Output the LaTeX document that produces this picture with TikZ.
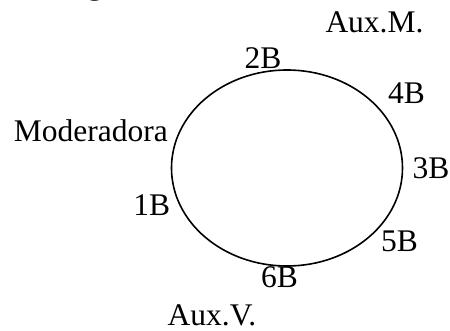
\documentclass[tikz,border=0pt]{standalone}
\usepackage{fontspec}
\setmainfont{Liberation Serif}
\begin{document}
\begin{tikzpicture}[x=1pt,y=1pt,
  lbl/.style={anchor=base,inner sep=0pt,font=\fontsize{31.5}{36}\selectfont}]
\useasboundingbox (0,0) rectangle (450,330);
\draw[line width=1.6pt] (287,162) ellipse [x radius=115.5, y radius=98];
\node[lbl] (frag) at (95,335) {g};
\node[lbl] (auxm) at (374.5,297.7) {Aux.M.};
\node[lbl] (b2) at (263,261) {2B};
\node[lbl] (b4) at (406.5,226) {4B};
\node[lbl] (mod) at (90.8,188.3) {Moderadora};
\node[lbl] (b3) at (431,152) {3B};
\node[lbl] (b1) at (151.7,115) {1B};
\node[lbl] (b5) at (399.5,78.3) {5B};
\node[lbl] (b6) at (279.5,43) {6B};
\node[lbl] (auxv) at (212,5) {Aux.V.};
\end{tikzpicture}
\end{document}
